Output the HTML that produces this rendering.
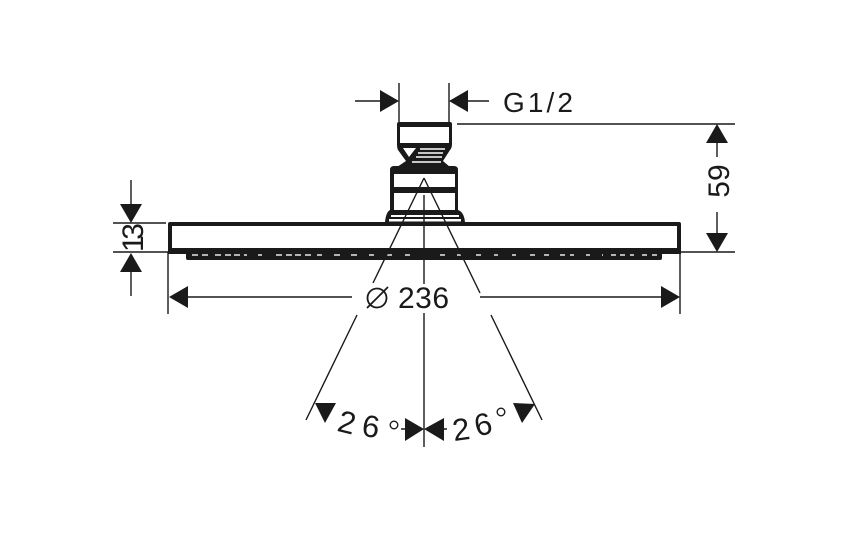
<!DOCTYPE html>
<html>
<head>
<meta charset="utf-8">
<style>
html,body{margin:0;padding:0;background:#fff;width:850px;height:538px;overflow:hidden}
svg{display:block}
text{font-family:"Liberation Sans",sans-serif;fill:#1a1a1a}
</style>
</head>
<body>
<svg width="850" height="538" viewBox="0 0 850 538" xmlns="http://www.w3.org/2000/svg">
<rect width="850" height="538" fill="#fff"/>

<!-- head fitting -->
<path d="M399 122H450Q452 122 452 124V144Q452 148 450 150L443 161L450 167H397L406 161L398 150Q397 148 397 144V124Q397 122 399 122Z" fill="#1a1a1a"/>
<rect x="400" y="127" width="49" height="16" fill="#fff"/>
<polygon points="403,148 416,148 409,157" fill="#fff"/>
<g stroke="#fff" stroke-width="1.5" fill="none">
<path d="M420 149H445M418 153H443M416 157H442M412 162H441"/>
</g>
<path d="M394 166H454Q458 166 458 170V210H458Q464 212 465 222H385Q386 212 390 210V170Q390 166 394 166Z" fill="#1a1a1a"/>
<rect x="394" y="174" width="61" height="13" fill="#fff"/>
<rect x="394" y="193" width="61" height="17" fill="#fff"/>
<rect x="391" y="215" width="68" height="2" fill="#fff"/>
<rect x="389" y="219" width="72" height="2.5" fill="#fff"/>

<!-- body -->
<rect x="170" y="224" width="509" height="27" fill="#fff" stroke="none"/>
<path d="M170 252V224H679V250" fill="none" stroke="#1a1a1a" stroke-width="4" stroke-linejoin="round"/>
<rect x="168" y="248" width="513" height="6" fill="#1a1a1a"/>
<rect x="186" y="250" width="476" height="10" rx="2" fill="#1a1a1a"/>
<g stroke="#e8e8e8" stroke-width="1.5" fill="none">
<path d="M192 255H198M202 255H208M215 255H221M225 255H231M234 255H240M244 255H247M258 255H262M276 255H282M286 255H292M295 255H301M305 255H311M317 255H322M334 255H340M351 255H357M369 255H374M387 255H392M405 255H410"/>
<path d="M440 255H445M457 255H461M476 255H481M494 255H498M512 255H516M530 255H535M544 255H549M560 255H565M570 255H574M586 255H590M602 255H603M611 255H616M620 255H625M630 255H634M642 255H647M652 255H657"/>
</g>

<!-- thin lines -->
<g stroke="#1a1a1a" stroke-width="1.4" fill="none">
<path d="M399 83V122M449 83V122M355 101H381M468 101H489"/>
<path d="M457 124H735M681 252H735M113 223H166M113 252H168"/>
<path d="M168 252V314M680 252V314"/>
<path d="M131 180V205M131 272V296M717 143V157M717 212V233"/>
<path d="M188 297H352M480 297H661"/>
<path d="M424 178L373 283M357 315L306 420M424 178L480 293M491 315L542 420"/>
<path d="M424 195V284M424 313V447"/>
<path d="M401 429H405M444 429H447"/>
</g>

<!-- arrowheads -->
<g fill="#1a1a1a">
<polygon points="399,101 380,90 380,112"/>
<polygon points="449,101 468,90 468,112"/>
<polygon points="131,223 120,204 142,204"/>
<polygon points="131,253 120,272 142,272"/>
<polygon points="717,124 706,143 728,143"/>
<polygon points="717,252 706,233 728,233"/>
<polygon points="169,297 188,286 188,308"/>
<polygon points="680,297 661,286 661,308"/>
<polygon points="315,403 336,403 325,423"/>
<polygon points="513,403 535,404 522,423"/>
<polygon points="424,429 405,418 405,441"/>
<polygon points="424,429 444,418 444,441"/>
</g>

<!-- dimension text -->
<text x="503" y="112" font-size="28" textLength="70" lengthAdjust="spacing">G1/2</text>
<text x="398" y="308" font-size="30" textLength="51" lengthAdjust="spacing">236</text>
<g fill="none" stroke="#1a1a1a" stroke-width="1.8">
<circle cx="377" cy="298" r="9.5"/>
<path d="M367 308L388 287"/>
</g>
<text transform="translate(143,252) rotate(-90)" font-size="30" textLength="29" lengthAdjust="spacing">13</text>
<text transform="translate(729,181) rotate(-90)" font-size="30" text-anchor="middle">59</text>

<text transform="translate(347,422) rotate(14)" font-size="31" text-anchor="middle" y="11">2</text>
<text transform="translate(371,426) rotate(8)" font-size="31" text-anchor="middle" y="11">6</text>
<circle cx="394" cy="425" r="3.8" fill="none" stroke="#1a1a1a" stroke-width="1.4"/>
<text transform="translate(461,429) rotate(-8)" font-size="31" text-anchor="middle" y="11">2</text>
<text transform="translate(483,424) rotate(-14)" font-size="31" text-anchor="middle" y="11">6</text>
<circle cx="501" cy="412" r="3.8" fill="none" stroke="#1a1a1a" stroke-width="1.4"/>
</svg>
</body>
</html>
